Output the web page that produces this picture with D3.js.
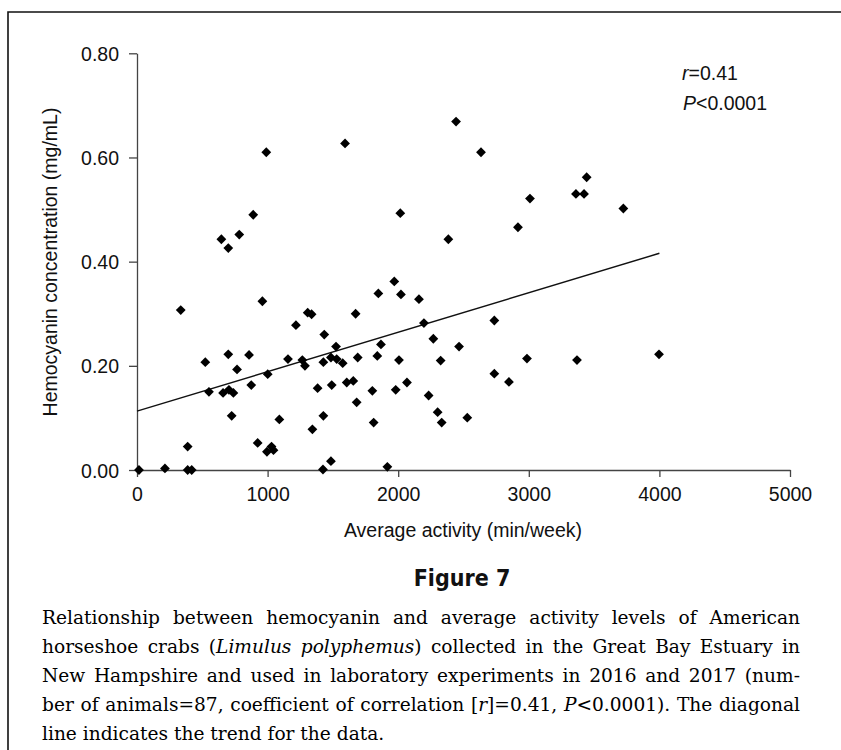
<!DOCTYPE html>
<html>
<head>
<meta charset="utf-8">
<script src="https://cdn.jsdelivr.net/npm/d3@7"></script>
<style>
  body { margin: 0; background: #fff; }
  #wrap { position: relative; width: 841px; height: 750px; overflow: hidden; }
  #caption { position: absolute; left: 42px; top: 603px; width: 758px;
    font-family: "DejaVu Serif", "Liberation Serif", serif; font-size: 18.6px; line-height: 29px; color: #000; }
  #caption div { white-space: nowrap; text-align: justify; text-align-last: justify; }
  #caption div.last { text-align-last: left; }
</style>
</head>
<body>
<div id="wrap"></div>
<script>
// Average activity (min/week)
const activity = [
  990, 890, 783, 646, 699, 1593, 2443, 2634, 3443, 3361, 3423, 3009, 2016, 2917, 2384, 3724, 3997,
  335, 960, 1307, 1337, 1217, 1434, 523, 699, 858, 766, 551, 659, 704, 738, 875, 1001, 725,
  1156, 1266, 1286, 1427, 1485, 1524, 1383, 1491, 1427, 1090, 1343, 924,
  995, 1030, 1045, 388, 15, 214, 388, 419, 1424, 1485,
  1970, 1848, 2021, 2159, 1674, 2197, 2736, 2269, 2466, 1868,
  1529, 1575, 1690, 1840, 2006, 2325, 2986, 3369,
  1606, 1656, 2067, 1802, 1981, 2736, 2848, 2233, 1682, 2302, 2529, 1812, 2333, 1917
];
// Hemocyanin concentration (mg/mL)
const hemocyanin = [
  0.610, 0.490, 0.452, 0.443, 0.426, 0.627, 0.669, 0.610, 0.562, 0.530, 0.530, 0.521, 0.493, 0.466, 0.443, 0.502, 0.222,
  0.307, 0.324, 0.302, 0.299, 0.278, 0.260, 0.207, 0.222, 0.221, 0.193, 0.150, 0.148, 0.154, 0.148, 0.163, 0.184, 0.104,
  0.213, 0.211, 0.200, 0.207, 0.216, 0.237, 0.157, 0.163, 0.104, 0.097, 0.078, 0.052,
  0.035, 0.045, 0.038, 0.045, 0.000, 0.003, 0.000, 0.000, 0.001, 0.017,
  0.362, 0.339, 0.337, 0.328, 0.300, 0.282, 0.287, 0.252, 0.237, 0.241,
  0.213, 0.205, 0.216, 0.219, 0.211, 0.210, 0.214, 0.211,
  0.168, 0.171, 0.168, 0.152, 0.154, 0.185, 0.169, 0.143, 0.130, 0.111, 0.1005, 0.091, 0.091, 0.006
];
// trend line ends
const trendX = [0, 4000];
const trendY = [0.113, 0.416];

const xTicks = [0, 1000, 2000, 3000, 4000, 5000];
const yTicks = [0, 0.2, 0.4, 0.6, 0.8];

const captionLines = [
  "Relationship between hemocyanin and average activity levels of American",
  "horseshoe crabs (<i>Limulus polyphemus</i>) collected in the Great Bay Estuary in",
  "New Hampshire and used in laboratory experiments in 2016 and 2017 (num-",
  "ber of animals=87, coefficient of correlation [<i>r</i>]=0.41, <i>P</i>&lt;0.0001). The diagonal",
  "line indicates the trend for the data."
];

const width = 841;
const height = 750;
const sans = "'Liberation Sans', Arial, Helvetica, sans-serif";
const axisColor = "#444";

const svg = d3.select("#wrap").append("svg")
    .attr("width", width)
    .attr("height", height)
    .style("position", "absolute")
    .style("left", 0).style("top", 0);

// frame around the figure
svg.append("path")
    .attr("d", `M8,${height + 5}V12H${width + 5}`)
    .attr("fill", "none")
    .attr("stroke", "#111")
    .attr("stroke-width", 1.6);

const x = d3.scaleLinear().domain([0, 5000]).range([137, 790]);
const y = d3.scaleLinear().domain([0, 0.8]).range([470, 53.3]);

// axes
const gx = svg.append("g")
    .attr("transform", `translate(0,${y(0)})`)
    .call(d3.axisBottom(x).tickValues(xTicks).tickFormat(d3.format("d")).tickSize(7).tickSizeOuter(0).tickPadding(10));
const gy = svg.append("g")
    .attr("transform", `translate(${x(0)},0)`)
    .call(d3.axisLeft(y).tickValues(yTicks).tickFormat(d3.format(".2f")).tickSize(8).tickSizeOuter(0).tickPadding(10));

[gx, gy].forEach(g => {
    g.selectAll("path, line").attr("stroke", axisColor).attr("stroke-width", 1.3);
    g.selectAll("text").attr("font-family", sans).attr("font-size", 19.5).attr("fill", "#111");
});
gy.selectAll("text").attr("dy", "0.36em");

// axis titles
svg.append("text")
    .attr("x", 463).attr("y", 537)
    .attr("text-anchor", "middle")
    .attr("font-family", sans).attr("font-size", 19.5).attr("fill", "#111")
    .text("Average activity (min/week)");

svg.append("text")
    .attr("transform", `translate(57,262) rotate(-90)`)
    .attr("text-anchor", "middle")
    .attr("font-family", sans).attr("font-size", 19.5).attr("fill", "#111")
    .text("Hemocyanin concentration (mg/mL)");

// trend line
svg.append("path")
    .datum(d3.zip(trendX, trendY))
    .attr("fill", "none")
    .attr("stroke", "#111")
    .attr("stroke-width", 1.5)
    .attr("d", d3.line().x(d => x(d[0])).y(d => y(d[1])));

// points
const diamond = d3.symbol(d3.symbolSquare, 48);
svg.append("g")
    .selectAll("path")
    .data(d3.zip(activity, hemocyanin))
    .join("path")
    .attr("d", diamond)
    .attr("transform", d => `translate(${x(d[0])},${y(d[1])}) rotate(45)`)
    .attr("fill", "#000");

// statistics
const stats = svg.append("g").attr("font-family", sans).attr("font-size", 19.5).attr("fill", "#111");
const t1 = stats.append("text").attr("x", 682).attr("y", 80);
t1.append("tspan").attr("font-style", "italic").text("r");
t1.append("tspan").text("=0.41");
const t2 = stats.append("text").attr("x", 683).attr("y", 110);
t2.append("tspan").attr("font-style", "italic").text("P");
t2.append("tspan").text("<0.0001");

// figure label
svg.append("text")
    .attr("x", 462).attr("y", 586)
    .attr("text-anchor", "middle")
    .attr("font-family", "'Liberation Sans Narrow', 'DejaVu Sans Condensed', 'Liberation Sans', sans-serif")
    .attr("font-weight", "bold")
    .attr("font-size", 23)
    .attr("fill", "#111")
    .text("Figure 7");

// caption
d3.select("#wrap").append("div")
    .attr("id", "caption")
    .selectAll("div")
    .data(captionLines)
    .join("div")
    .classed("last", (d, i) => i === captionLines.length - 1)
    .html(d => d);
</script>
</body>
</html>
